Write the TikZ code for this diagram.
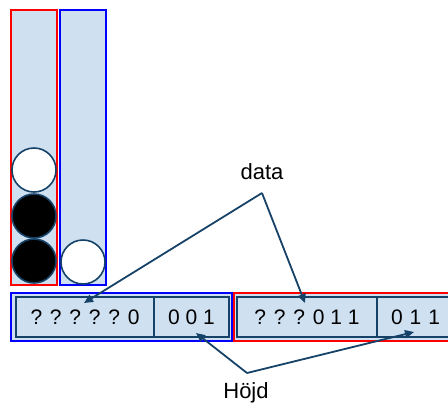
\documentclass[tikz,border=0pt]{standalone}
\usepackage{fontspec}
\setmainfont{Liberation Sans}
\usetikzlibrary{arrows.meta}
\definecolor{lightfill}{RGB}{207,224,241}
\definecolor{navy}{RGB}{22,66,104}
\tikzset{
  column/.style={draw=#1, line width=2pt, fill=lightfill},
  ball/.style={circle, draw=navy, line width=1.6pt, minimum size=44pt, inner sep=0pt},
  outerbox/.style={draw=#1, line width=2pt, fill=lightfill},
  cell/.style={draw=navy, line width=1.5pt, fill=lightfill, inner sep=0pt, font=\fontsize{21}{22}\selectfont},
  lbl/.style={font=\fontsize{22}{24}\selectfont, inner sep=0pt},
  ptr/.style={draw=navy, line width=1.8pt, -{Triangle[length=9pt,width=8pt]}}
}
\begin{document}
\begin{tikzpicture}[x=1pt,y=-1pt]
\useasboundingbox (0,0) rectangle (448,405);
\begin{scope}
\clip (0,0) rectangle (448,405);
% columns
\draw[column=red] (11,10) rectangle (57,285);
\draw[column=blue] (60,10) rectangle (106,285);
% balls
\node[ball, fill=white] (b1) at (34,170) {};
\node[ball, fill=black] (b2) at (34,216) {};
\node[ball, fill=black] (b3) at (34,261) {};
\node[ball, fill=white] (b4) at (83,262) {};
% bottom blocks
\draw[outerbox=blue] (11,293) rectangle (232,341);
\draw[outerbox=red] (234,293) rectangle (460,341);
\node[cell, minimum width=138pt, minimum height=40pt] (c1) at (85,317) {\raisebox{-1pt}{? ? ? ? ? 0}};
\node[cell, minimum width=75pt, minimum height=40pt] (c2) at (191.5,317) {\raisebox{-1pt}{0 0 1}};
\node[cell, minimum width=140pt, minimum height=40pt] (c3) at (307,317) {\raisebox{-1pt}{? ? ? 0 1 1}};
\node[cell, minimum width=100pt, minimum height=40pt, text width=86pt, align=left] (c4) at (427,317) {\hspace*{7pt}\raisebox{-1pt}{0 1 1}};
\end{scope}
% labels
\node[lbl] (data) at (262,172) {data};
\coordinate (dsrc) at (262,193);
\coordinate (d1) at (84,303);
\coordinate (d2) at (305,303);
\draw[ptr] (dsrc) -- (d1);
\draw[ptr] (dsrc) -- (d2);
\node[lbl] (hojd) at (246,393) {Höjd};
\coordinate (hsrc) at (247,373);
\coordinate (h1) at (196,333);
\coordinate (h2) at (414,332);
\draw[ptr] (hsrc) -- (h1);
\draw[ptr] (hsrc) -- (h2);
\end{tikzpicture}
\end{document}
